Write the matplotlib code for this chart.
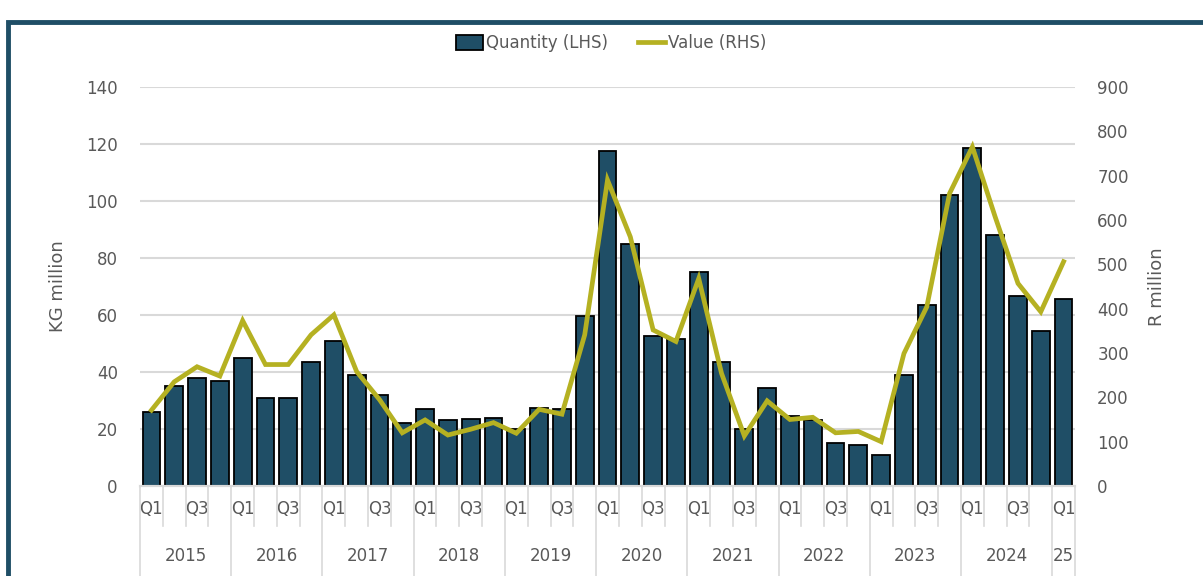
import numpy as np
import matplotlib.pyplot as plt
from matplotlib.patches import Rectangle
import matplotlib.transforms as mtransforms

# Quarterly data, 2015 Q1 .. 2025 Q1
years = ['2015', '2016', '2017', '2018', '2019', '2020', '2021', '2022', '2023', '2024', '25']
quarters = ['Q1', 'Q2', 'Q3', 'Q4']
quantity = [26, 35, 38, 37, 45, 31, 31, 43.5, 51, 39, 32, 22,
            27, 23, 23.5, 24, 20, 27.5, 27, 59.5, 117.5, 85, 52.5, 51.5,
            75, 43.5, 20, 34.5, 24.5, 23, 15, 14.5, 11, 39, 63.5, 102,
            118.5, 88, 66.5, 54.5, 65.5]
value = [171, 235, 269, 248, 373, 274, 274, 341, 386, 258, 195, 120,
         149, 115, 128, 143, 119, 173, 162, 341, 690, 562, 352, 326,
         468, 254, 113, 192, 150, 155, 120, 123, 100, 299, 404, 660,
         765, 607, 457, 393, 506]

bar_color = '#1F4E66'
line_color = '#B5B122'
text_color = '#595959'
grid_color = '#D9D9D9'

n = len(quantity)
x = np.arange(n)
q_labels = [quarters[i % 4] if i % 2 == 0 else '' for i in range(n)]

fig = plt.figure(figsize=(12.03, 5.76), dpi=100)
ax = fig.add_axes([0.1164, 0.15625, 0.7772, 0.6927])
ax2 = ax.twinx()

ax.bar(x, quantity, width=0.78, color=bar_color, edgecolor='black',
       linewidth=1.3, label='Quantity (LHS)', zorder=2)
ax2.plot(x, value, color=line_color, linewidth=3.4, label='Value (RHS)',
         solid_joinstyle='miter', zorder=3)

ax.set_xlim(-0.5, n - 0.5)
ax.set_ylim(0, 140)
ax.set_yticks(range(0, 141, 20))
ax2.set_ylim(0, 900)
ax2.set_yticks(range(0, 901, 100))

ax.yaxis.grid(True, color=grid_color, linewidth=1.5, zorder=0)
ax.set_axisbelow(True)

for a in (ax, ax2):
    for s in ('left', 'right', 'top'):
        a.spines[s].set_visible(False)
    a.spines['bottom'].set_color(grid_color)
    a.spines['bottom'].set_linewidth(1.5)
    a.tick_params(axis='y', length=0, labelsize=12, labelcolor=text_color, pad=16)

ax.set_ylabel('KG million', fontsize=13, color=text_color, labelpad=14)
ax2.set_ylabel('R million', fontsize=13, color=text_color, labelpad=14)

# two-level category axis
ax.set_xticks(x)
ax.set_xticklabels(q_labels, fontsize=12, color=text_color)
ax.tick_params(axis='x', length=0, pad=10)

trans = mtransforms.blended_transform_factory(ax.transData, ax.transAxes)
for b in np.arange(-0.5, n, 1.0):
    is_year = (b + 0.5) % 4 == 0 or b == n - 0.5
    y_end = -0.29 if is_year else -0.10
    ax.plot([b, b], [0, y_end], transform=trans, color=grid_color,
            linewidth=1.2, clip_on=False)
for i, yr in enumerate(years):
    start = i * 4
    stop = min(start + 4, n)
    ax.text((start + stop - 1) / 2, -0.175, yr, transform=trans, ha='center',
            va='center', fontsize=12, color=text_color)

# legend
h1, l1 = ax.get_legend_handles_labels()
h2, l2 = ax2.get_legend_handles_labels()
fig.legend(h1 + h2, l1 + l2, loc='center', bbox_to_anchor=(0.508, 0.925),
           ncol=2, frameon=False, fontsize=12, labelcolor=text_color,
           handlelength=1.6, handleheight=1.0, handletextpad=0.2,
           columnspacing=1.8)

# outer frame, partly cut off by the image edge
fig.patches.append(Rectangle((8 / 1203, -0.1), 1.2, (576 - 22) / 576 + 0.1,
                             transform=fig.transFigure, fill=False,
                             edgecolor=bar_color, linewidth=3.5))

fig.savefig('out.png', dpi=100)
